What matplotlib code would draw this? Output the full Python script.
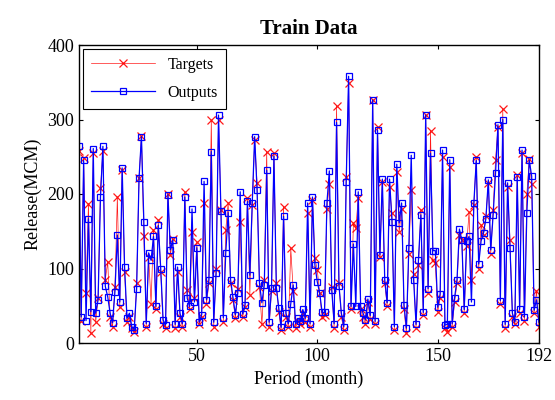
import numpy as np
import matplotlib
matplotlib.use('Agg')
import matplotlib.pyplot as plt

plt.rcParams['font.family'] = ['Liberation Serif', 'DejaVu Serif']

# datos (MCM por mes)
meses = np.arange(1, 193)

targets = [258, 30, 248, 67, 187, 13, 255, 28, 60, 208,
           258, 85, 109, 35, 22, 75, 196, 48, 232, 95,
           28, 35, 20, 15, 80, 221, 278, 143, 22, 115,
           53, 152, 45, 165, 95, 25, 20, 200, 118, 140,
           20, 95, 35, 22, 203, 71, 45, 149, 60, 135,
           25, 35, 188, 52, 80, 299, 22, 99, 300, 178,
           28, 152, 188, 80, 58, 33, 72, 162, 35, 48,
           195, 65, 185, 272, 215, 75, 25, 85, 257, 22,
           70, 255, 80, 42, 18, 183, 35, 22, 127, 70,
           20, 30, 25, 40, 28, 174, 22, 192, 114, 98,
           67, 35, 38, 180, 214, 75, 20, 318, 80, 35,
           18, 223, 349, 45, 161, 154, 195, 45, 35, 25,
           55, 32, 326, 25, 290, 115, 216, 80, 50, 210,
           174, 18, 230, 149, 180, 45, 13, 120, 205, 92,
           20, 105, 178, 38, 306, 67, 285, 111, 107, 42,
           60, 250, 20, 15, 236, 22, 55, 80, 145, 138,
           40, 130, 176, 85, 185, 250, 100, 158, 145, 170,
           215, 120, 178, 246, 290, 52, 314, 20, 210, 138,
           35, 25, 225, 40, 255, 30, 200, 247, 213, 40,
           70, 22]

outputs = [264, 35, 245, 30, 167, 42, 261, 40, 58, 196,
           264, 76, 62, 40, 27, 69, 145, 55, 235, 102,
           33, 40, 22, 18, 73, 221, 277, 163, 26, 121,
           111, 143, 49, 158, 100, 31, 24, 199, 125, 138,
           25, 102, 40, 26, 196, 60, 49, 180, 55, 128,
           28, 38, 217, 58, 85, 257, 28, 94, 306, 177,
           34, 121, 175, 85, 62, 38, 67, 203, 39, 51,
           190, 91, 188, 277, 205, 80, 54, 78, 232, 28,
           74, 251, 74, 47, 21, 170, 40, 26, 53, 78,
           26, 33, 30, 45, 33, 188, 26, 196, 105, 82,
           67, 41, 41, 188, 231, 71, 26, 296, 77, 40,
           22, 216, 358, 49, 133, 49, 203, 49, 40, 31,
           59, 37, 326, 29, 286, 118, 220, 85, 54, 220,
           163, 22, 240, 161, 188, 51, 20, 128, 252, 84,
           25, 112, 172, 41, 306, 73, 255, 124, 124, 48,
           66, 259, 24, 25, 246, 26, 61, 85, 153, 138,
           45, 137, 143, 55, 188, 245, 106, 137, 148, 167,
           219, 125, 172, 228, 293, 57, 300, 25, 215, 127,
           40, 28, 223, 45, 259, 35, 175, 245, 224, 44,
           58, 28]

fig = plt.figure(figsize=(5.55, 4.0), dpi=100)
ax = fig.add_axes([0.142, 0.1425, 0.829, 0.745])

ax.plot(meses, targets, color='red', lw=0.5, alpha=0.9, marker='x', ms=6,
        mew=0.9, label='Targets')
ax.plot(meses, outputs, color='blue', lw=0.9, marker='s', ms=5, mew=0.9,
        mfc='none', label='Outputs')

ax.set_xlim(1, 192)
ax.set_ylim(0, 400)
ax.set_xticks([50, 100, 150, 192])
ax.set_yticks([0, 100, 200, 300, 400])
ax.tick_params(direction='in', labelsize=13, top=True, right=True, length=3)
for s in ax.spines.values():
    s.set_linewidth(1.0)

ax.set_title('Train Data', fontsize=15, fontweight='bold', pad=8)
ax.set_xlabel('Period (month)', fontsize=13)
ax.set_ylabel('Release(MCM)', fontsize=13)

leg = ax.legend(loc='upper left', fontsize=11.5, fancybox=False, framealpha=1,
                edgecolor='black', handlelength=4.0, labelspacing=0.75,
                borderaxespad=0.25, borderpad=0.5)
leg.get_frame().set_linewidth(0.8)

fig.savefig('out.png', dpi=100)
